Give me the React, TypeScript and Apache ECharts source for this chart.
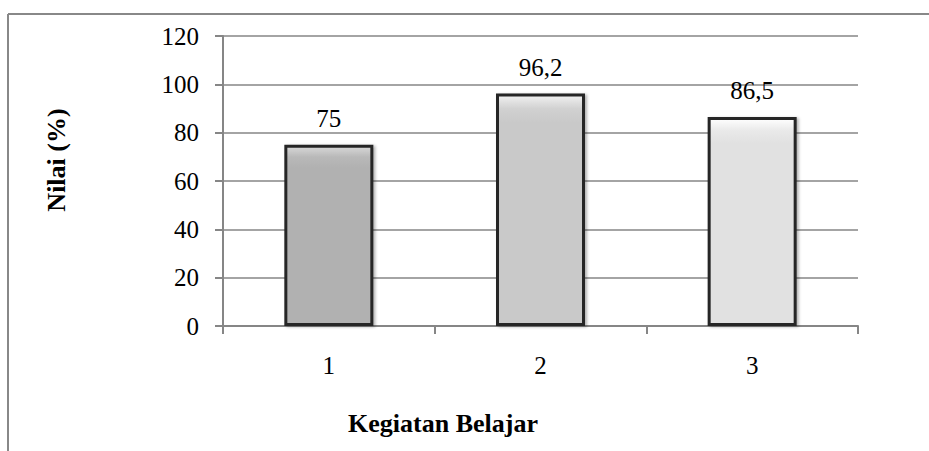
import React, { useEffect, useRef } from "react";
import * as echarts from "echarts";

const categories = ["1", "2", "3"];
const values = [75, 96.2, 86.5];
const barColors = ["#b1b1b1", "#c9c9c9", "#e1e1e1"];
const yTicks = [0, 20, 40, 60, 80, 100, 120];

const FONT = "Liberation Serif";

function lighten(hex: string, amt: number): string {
  const n = parseInt(hex.slice(1), 16);
  const r = Math.min(255, ((n >> 16) & 255) + amt);
  const g = Math.min(255, ((n >> 8) & 255) + amt);
  const b = Math.min(255, (n & 255) + amt);
  return `rgb(${r},${g},${b})`;
}

export default function App() {
  const ref = useRef<HTMLDivElement>(null);

  useEffect(() => {
    if (!ref.current) return;
    const chart = echarts.init(ref.current, null, { renderer: "svg" });

    const data = values.map((v, i) => ({
      value: v,
      itemStyle: {
        color: {
          type: "linear",
          x: 0,
          y: 0,
          x2: 0,
          y2: 1,
          colorStops: [
            { offset: 0, color: lighten(barColors[i], 40) },
            { offset: 0.06, color: lighten(barColors[i], 8) },
            { offset: 0.12, color: barColors[i] },
            { offset: 1, color: barColors[i] },
          ],
        },
      },
    }));

    chart.setOption({
      animation: false,
      backgroundColor: "#ffffff",
      textStyle: { fontFamily: FONT },
      grid: { left: 223, right: 71, top: 36, bottom: 125 },
      xAxis: {
        type: "category",
        data: categories,
        axisLine: { lineStyle: { color: "#868686", width: 2 } },
        axisTick: { show: true, length: 8, lineStyle: { color: "#868686", width: 2 } },
        axisLabel: { color: "#000", fontFamily: FONT, fontSize: 25, margin: 27 },
      },
      yAxis: {
        type: "value",
        min: 0,
        max: yTicks[yTicks.length - 1],
        interval: 20,
        axisLine: { show: true, lineStyle: { color: "#868686", width: 2 } },
        axisTick: { show: true, length: 8, lineStyle: { color: "#868686", width: 2 } },
        splitLine: { show: true, lineStyle: { color: "#868686", width: 1.5 } },
        axisLabel: { color: "#000", fontFamily: FONT, fontSize: 25, margin: 24 },
      },
      series: [
        {
          type: "bar",
          data,
          barWidth: 89,
          itemStyle: {
            borderColor: "#262626",
            borderWidth: 3,
            shadowColor: "rgba(0,0,0,0.3)",
            shadowBlur: 3,
            shadowOffsetX: 2,
            shadowOffsetY: 1,
          },
          label: {
            show: true,
            position: "top",
            distance: 14,
            color: "#000",
            fontFamily: FONT,
            fontSize: 25,
            formatter: (p: any) => String(p.value).replace(".", ","),
          },
        },
      ],
      graphic: [
        {
          type: "line",
          shape: { x1: 8, y1: 14, x2: 929, y2: 14 },
          style: { stroke: "#888888", lineWidth: 2 },
        },
        {
          type: "line",
          shape: { x1: 8, y1: 14, x2: 8, y2: 451 },
          style: { stroke: "#888888", lineWidth: 2 },
        },
        {
          type: "text",
          x: 56,
          y: 160,
          rotation: Math.PI / 2,
          style: {
            text: "Nilai (%)",
            font: `bold 26px ${FONT}`,
            fill: "#000",
            align: "center",
            verticalAlign: "middle",
          },
        },
        {
          type: "text",
          x: 443,
          y: 423,
          style: {
            text: "Kegiatan Belajar",
            font: `bold 26px ${FONT}`,
            fill: "#000",
            align: "center",
            verticalAlign: "middle",
          },
        },
      ],
    });

    return () => chart.dispose();
  }, []);

  return (
    <div
      ref={ref}
      style={{ position: "fixed", left: 0, top: 0, width: 929, height: 451 }}
    />
  );
}
